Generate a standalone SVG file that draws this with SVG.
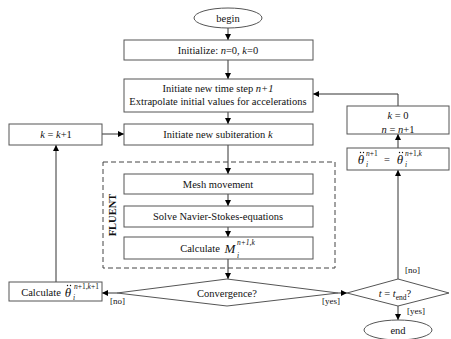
<svg xmlns="http://www.w3.org/2000/svg" width="451" height="339" viewBox="0 0 451 339" font-family="'Liberation Serif', 'Times New Roman', serif">
<defs>
<marker id="ah" viewBox="0 0 10 10" refX="10" refY="5" markerWidth="6" markerHeight="6" orient="auto" markerUnits="userSpaceOnUse"><path d="M0,0 L10,5 L0,10 z" fill="#000"/></marker>
<style>
.b{fill:#fff;stroke:#555;stroke-width:1}
.t{font-family:'Liberation Serif','Times New Roman',serif;font-size:10.5px;fill:#111;text-anchor:middle}
.i{font-style:italic}
.s{font-size:7.5px}
.c{fill:none;stroke:#333;stroke-width:1}
.l{font-size:9px;text-anchor:start}
.d{fill:#111}
</style>
</defs>
<rect width="451" height="339" fill="#fff"/>
<g id="connectors" class="c">
<path d="M228,28 V40" marker-end="url(#ah)"/>
<path d="M228,60 V79" marker-end="url(#ah)"/>
<path d="M228,112 V124" marker-end="url(#ah)"/>
<path d="M228,145 V174" marker-end="url(#ah)"/>
<path d="M228,194 V206" marker-end="url(#ah)"/>
<path d="M228,227 V237" marker-end="url(#ah)"/>
<path d="M228,259 V279" marker-end="url(#ah)"/>
<path d="M117,293 H102" marker-end="url(#ah)"/>
<path d="M56,282 V145" marker-end="url(#ah)"/>
<path d="M102,134 H124" marker-end="url(#ah)"/>
<path d="M338,293 H347" marker-end="url(#ah)"/>
<path d="M398,279 V170" marker-end="url(#ah)"/>
<path d="M398,148 V134" marker-end="url(#ah)"/>
<path d="M398,106 V94 H313" marker-end="url(#ah)"/>
<path d="M398,306 V320" marker-end="url(#ah)"/>
</g>
<g id="begin"><ellipse class="b" cx="228" cy="18" rx="34" ry="10"/><text class="t" x="228" y="22">begin</text></g>
<g id="init"><rect class="b" x="124" y="40" width="189" height="20"/><text class="t" x="218" y="54">Initialize: <tspan class="i">n</tspan>=0, <tspan class="i">k</tspan>=0</text></g>
<g id="timestep"><rect class="b" x="124" y="79" width="189" height="33"/><text class="t" x="218" y="92">Initiate new time step <tspan class="i">n+1</tspan></text><text class="t" x="218" y="105">Extrapolate initial values for accelerations</text></g>
<g id="subiter"><rect class="b" x="124" y="124" width="189" height="21"/><text class="t" x="218" y="138">Initiate new subiteration <tspan class="i">k</tspan></text></g>
<g id="kinc"><rect class="b" x="9" y="124" width="93" height="21"/><text class="t" x="56" y="138"><tspan class="i">k</tspan> = <tspan class="i">k</tspan>+1</text></g>
<g id="fluent"><rect x="103" y="162" width="232" height="106" fill="none" stroke="#444" stroke-dasharray="5,3"/><text class="t" transform="translate(116,215) rotate(-90)" style="font-weight:bold">FLUENT</text></g>
<g id="mesh"><rect class="b" x="124" y="174" width="189" height="20"/><text class="t" x="218" y="188">Mesh movement</text></g>
<g id="ns"><rect class="b" x="124" y="206" width="189" height="21"/><text class="t" x="218" y="220">Solve Navier-Stokes-equations</text></g>
<g id="calcM"><rect class="b" x="124" y="237" width="189" height="22"/><text class="t" x="200" y="252">Calculate</text><text class="t i" x="230" y="253" style="font-size:13px">M</text><text class="t i s" x="237" y="258" style="text-anchor:start">i</text><text class="t i s" x="237" y="245" style="text-anchor:start">n+1,k</text></g>
<g id="conv"><path class="b" d="M227,279 L338,293 L227,306 L117,293 Z"/><text class="t" x="227" y="297">Convergence?</text></g>
<g id="calcT"><rect class="b" x="9" y="282" width="93" height="19"/><text class="t" x="41" y="296">Calculate</text><text class="t i" x="68" y="297" style="font-size:13px">θ</text><circle class="d" cx="67.5" cy="285.5" r="0.7"/><circle class="d" cx="70.5" cy="285.5" r="0.7"/><text class="t i s" x="73" y="300" style="text-anchor:start">i</text><text class="t s" x="74" y="289" style="text-anchor:start"><tspan class="i">n</tspan>+1,<tspan class="i">k</tspan>+1</text></g>
<g id="tend"><path class="b" d="M398,279 L449,293 L398,306 L347,293 Z"/><text class="t" x="395" y="297"><tspan class="i">t</tspan> = <tspan class="i">t</tspan><tspan class="s" dy="3">end</tspan><tspan dy="-3">?</tspan></text></g>
<g id="thetaUpd"><rect class="b" x="347" y="148" width="102" height="22"/><text class="t i" x="361" y="164" style="font-size:13px">θ</text><circle class="d" cx="360.5" cy="152.5" r="0.7"/><circle class="d" cx="363.5" cy="152.5" r="0.7"/><text class="t s" x="366" y="167" style="text-anchor:start;font-style:italic">i</text><text class="t s" x="366" y="156" style="text-anchor:start"><tspan class="i">n</tspan>+1</text><text class="t" x="387" y="163">=</text><text class="t i" x="400" y="164" style="font-size:13px">θ</text><circle class="d" cx="399.5" cy="152.5" r="0.7"/><circle class="d" cx="402.5" cy="152.5" r="0.7"/><text class="t s" x="405" y="167" style="text-anchor:start;font-style:italic">i</text><text class="t s" x="405" y="156" style="text-anchor:start"><tspan class="i">n</tspan>+1,<tspan class="i">k</tspan></text></g>
<g id="reset"><rect class="b" x="347" y="106" width="102" height="28"/><text class="t" x="398" y="119"><tspan class="i">k</tspan> = 0</text><text class="t" x="398" y="133"><tspan class="i">n</tspan> = <tspan class="i">n</tspan>+1</text></g>
<g id="end"><ellipse class="b" cx="398" cy="330" rx="34" ry="10"/><text class="t" x="398" y="334">end</text></g>
<g id="labels">
<text class="t l" x="110" y="304">[no]</text>
<text class="t l" x="322" y="304">[yes]</text>
<text class="t l" x="405" y="273">[no]</text>
<text class="t l" x="407" y="314">[yes]</text>
</g>
</svg>
